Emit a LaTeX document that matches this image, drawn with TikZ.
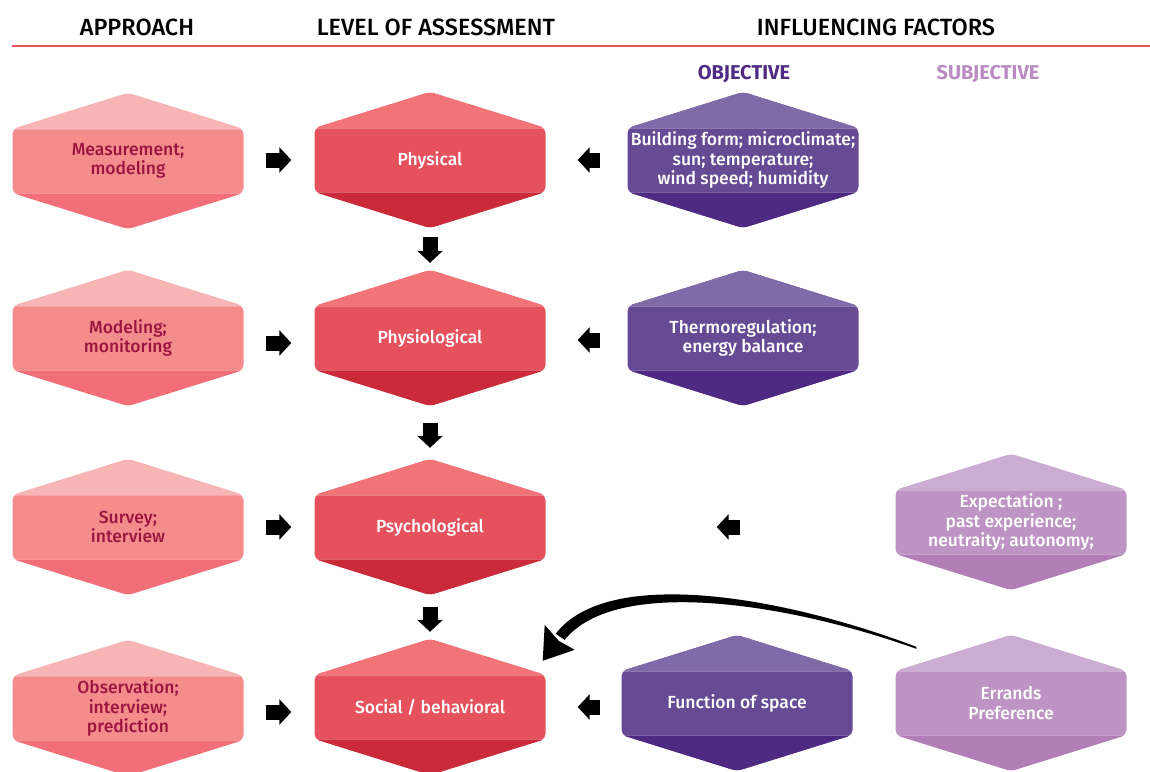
\documentclass[tikz,border=0pt]{standalone}
\usepackage{fontspec}
\setmainfont{Fira Sans}
\newfontfamily\medfont{Fira Sans Medium}
\usetikzlibrary{arrows.meta,calc}

\definecolor{apTop}{HTML}{F8B5B5}
\definecolor{apMid}{HTML}{F48C8C}
\definecolor{apBot}{HTML}{F26E79}
\definecolor{apText}{HTML}{9A1641}
\definecolor{lvTop}{HTML}{F27479}
\definecolor{lvMid}{HTML}{E5525D}
\definecolor{lvBot}{HTML}{CB2A3A}
\definecolor{obTop}{HTML}{806AA8}
\definecolor{obMid}{HTML}{674A94}
\definecolor{obBot}{HTML}{4F2A82}
\definecolor{sbTop}{HTML}{CBACD3}
\definecolor{sbMid}{HTML}{BE94C4}
\definecolor{sbBot}{HTML}{B17EB6}
\definecolor{sbText}{HTML}{B88CC0}
\definecolor{redline}{HTML}{E9535E}

% outline of a hexagon inside the path picture
\newcommand\hexpath{(pp-n) -- (pp-a) -- (pp-b) -- (pp-s) -- (pp-d) -- (pp-c) -- cycle}

\tikzset{
  hexa/.style n args={4}{minimum width=231pt, minimum height=136pt, inner sep=0pt,
    align=center, text=#4, font=\medfont\fontsize{17.5}{19.5}\selectfont,
    path picture={
      \coordinate (pp-n) at (path picture bounding box.north);
      \coordinate (pp-s) at (path picture bounding box.south);
      \coordinate (pp-a) at ($(path picture bounding box.north west)!.265!(path picture bounding box.south west)$);
      \coordinate (pp-b) at ($(path picture bounding box.north west)!.735!(path picture bounding box.south west)$);
      \coordinate (pp-c) at ($(path picture bounding box.north east)!.265!(path picture bounding box.south east)$);
      \coordinate (pp-d) at ($(path picture bounding box.north east)!.735!(path picture bounding box.south east)$);
      \fill[#2, rounded corners=5pt] \hexpath;
      \begin{scope}
        \clip[rounded corners=5pt] \hexpath;
        \fill[#1] (path picture bounding box.north west) rectangle (pp-c);
        \fill[#3] (pp-b) rectangle (path picture bounding box.south east);
        \draw[white, opacity=.25, line width=.8pt] (pp-a) -- (pp-c) (pp-b) -- (pp-d);
      \end{scope}
    }},
  approach/.style={hexa={apTop}{apMid}{apBot}{apText}},
  level/.style={hexa={lvTop}{lvMid}{lvBot}{white}},
  objective/.style={hexa={obTop}{obMid}{obBot}{white}},
  subjective/.style={hexa={sbTop}{sbMid}{sbBot}{white}},
  head/.style={anchor=base, font=\medfont\fontsize{23.5}{26}\selectfont},
  kind/.style={anchor=base, font=\bfseries\fontsize{20}{22}\selectfont},
  blk/.style={line width=15pt, -{Triangle[length=12pt,width=25pt]}},
}

\begin{document}
\begin{tikzpicture}[x=1pt, y=-1pt]
  \useasboundingbox (0,0) rectangle (1150,771);

  % headings
  \node[head] (happ) at (137,35) {APPROACH};
  \node[head] (hlev) at (436,35) {LEVEL OF ASSESSMENT};
  \node[head] (hinf) at (876,35) {INFLUENCING FACTORS};
  \draw[redline, line width=2.5pt] (12,46) -- (1150,46);
  \node[kind, text=obBot] (hobj) at (744,79) {OBJECTIVE};
  \node[kind, text=sbText] (hsub) at (988,79) {SUBJECTIVE};

  % approach
  \node[approach] (meas) at (128,161) {Measurement;\\modeling};
  \node[approach] (model) at (128,338) {Modeling;\\monitoring};
  \node[approach] (surv) at (128,527) {Survey;\\interview};
  \node[approach] (obs) at (128,708) {Observation;\\interview;\\prediction};

  % level of assessment
  \node[level] (phys) at (430,160) {Physical};
  \node[level] (physio) at (430,338) {Physiological};
  \node[level] (psych) at (430,527) {Psychological};
  \node[level] (social) at (430,707) {Social / behavioral};

  % influencing factors
  \node[objective] (climate) at (743,160) {Building form; microclimate;\\sun; temperature;\\wind speed; humidity};
  \node[objective] (thermo) at (743,338) {Thermoregulation;\\energy balance};
  \node[objective] (func) at (737,703) {Function of space};
  \node[subjective] (expect) at (1011,522) {Expectation ;\\past experience;\\neutraity; autonomy;};
  \node[subjective] (errand) at (1011,703) {Errands\\Preference};

  % block arrows
  \draw[blk, shorten <=22.5pt, shorten >=23pt] (meas.east |- phys) -- (phys);
  \draw[blk, shorten <=22.5pt, shorten >=23pt] ([yshift=-5pt]model.east) -- ([yshift=-5pt]physio.west);
  \draw[blk, shorten <=22.5pt, shorten >=23pt] (surv) -- (psych);
  \draw[blk, shorten <=22.5pt, shorten >=23pt] ([yshift=-4pt]obs.east) -- ([yshift=-5pt]social.west);
  \draw[blk, shorten <=9pt, shorten >=7pt] (phys) -- (physio);
  \draw[blk, shorten <=17pt, shorten >=11pt] (physio) -- (psych);
  \draw[blk, shorten <=12pt, shorten >=7pt] (psych) -- (social);
  \draw[blk, shorten <=27pt, shorten >=32pt] (climate) -- (phys);
  \draw[blk, shorten <=27pt, shorten >=32pt] ([yshift=-2pt]thermo.west) -- ([yshift=-2pt]physio.east);
  \draw[blk, shorten <=155pt, shorten >=171pt] (expect.west |- psych.east) -- (psych.east);
  \draw[blk, shorten <=21pt, shorten >=32pt] (func.west |- social.east) -- (social.east);

  % sweeping arrow from errands to social
  \coordinate (cs) at ($(errand.north west)+(21,12)$);
  \coordinate (ct) at ($(social.north east)+(-3,22)$);
  \fill (cs) .. controls ($(cs)+(-137,-52)$) and ($(ct)+(64,-94)$) .. ($(ct)+(13,-27)$)
    -- ($(ct)+(22,-21)$) .. controls ($(ct)+(72,-83)$) and ($(cs)+(-135,-46)$) .. ($(cs)+(0,2)$) -- cycle;
  \fill (ct) -- ($(ct)+(2,-36)$) -- ($(ct)+(16,-20)$) -- ($(ct)+(32,-11)$) -- cycle;
\end{tikzpicture}
\end{document}
